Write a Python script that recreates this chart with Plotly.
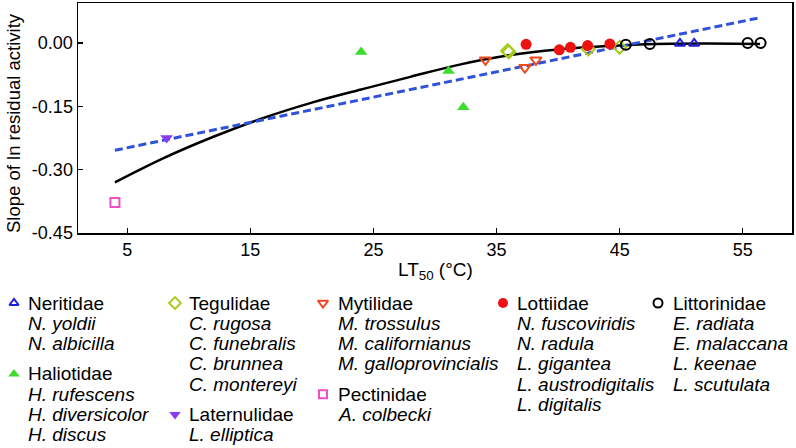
import plotly.graph_objects as go

# ---------------- data ----------------
neritidae_x = [49.9, 51.05]
neritidae_y = [-0.001, -0.001]
haliotidae_x = [24.0, 31.1, 32.3]
haliotidae_y = [-0.021, -0.066, -0.152]
tegulidae_x = [35.9, 36.0, 42.45, 45.0]
tegulidae_y = [-0.018, -0.021, -0.014, -0.010]
laternulidae_x = [8.2]
laternulidae_y = [-0.225]
mytilidae_x = [34.1, 37.3, 38.2]
mytilidae_y = [-0.040, -0.058, -0.040]
pectinidae_x = [4.0]
pectinidae_y = [-0.378]
lottiidae_x = [37.4, 40.1, 41.0, 42.4, 44.2]
lottiidae_y = [-0.003, -0.016, -0.010, -0.006, -0.002]
littorinidae_x = [45.5, 47.45, 55.4, 56.45]
littorinidae_y = [-0.004, -0.002, 0.0, 0.0]

# fitted curves
curve_x = [4, 8, 12, 16, 20, 24, 28, 32, 36, 40, 44, 48, 52, 56.4]
curve_y = [-0.330, -0.272, -0.222, -0.178, -0.141, -0.110, -0.080,
           -0.051, -0.029, -0.015, -0.007, -0.002, -0.001, -0.002]
linear_x = [4.0, 56.2]
linear_y = [-0.254, 0.059]

x_ticks = [5, 15, 25, 35, 45, 55]
y_ticks = [0.00, -0.15, -0.30, -0.45]
y_tick_text = ["0.00", "-0.15", "-0.30", "-0.45"]

# legend content: columns of (family, species)
legend_cols = [
    [("Neritidae", ["N. yoldii", "N. albicilla"]),
     ("Haliotidae", ["H. rufescens", "H. diversicolor", "H. discus"])],
    [("Tegulidae", ["C. rugosa", "C. funebralis", "C. brunnea", "C. montereyi"]),
     ("Laternulidae", ["L. elliptica"])],
    [("Mytilidae", ["M. trossulus", "M. californianus", "M. galloprovincialis"]),
     ("Pectinidae", ["A. colbecki"])],
    [("Lottiidae", ["N. fuscoviridis", "N. radula", "L. gigantea",
                    "L. austrodigitalis", "L. digitalis"])],
    [("Littorinidae", ["E. radiata", "E. malaccana", "L. keenae", "L. scutulata"])],
]

# ---------------- styles ----------------
style = {
    "Neritidae": dict(symbol="triangle-up-open", color="#1f1fd6", size=9),
    "Haliotidae": dict(symbol="triangle-up", color="#3ddc2f", size=11),
    "Tegulidae": dict(symbol="diamond-open", color="#a6cc1c", size=10),
    "Laternulidae": dict(symbol="triangle-down", color="#8a3cf0", size=11),
    "Mytilidae": dict(symbol="triangle-down-open", color="#ec4a1c", size=10),
    "Pectinidae": dict(symbol="square-open", color="#ec4fc8", size=9),
    "Lottiidae": dict(symbol="circle", color="#ee1111", size=11),
    "Littorinidae": dict(symbol="circle-open", color="#000000", size=10),
}
series = {
    "Tegulidae": (tegulidae_x, tegulidae_y),
    "Haliotidae": (haliotidae_x, haliotidae_y),
    "Laternulidae": (laternulidae_x, laternulidae_y),
    "Mytilidae": (mytilidae_x, mytilidae_y),
    "Pectinidae": (pectinidae_x, pectinidae_y),
    "Neritidae": (neritidae_x, neritidae_y),
    "Lottiidae": (lottiidae_x, lottiidae_y),
    "Littorinidae": (littorinidae_x, littorinidae_y),
}

W, H = 796, 448
L, R, T, B = 78, 792, 3, 233
FONT = "Liberation Sans, Arial, Helvetica, sans-serif"
LEG_SIZE = 19

fig = go.Figure()

fig.add_trace(go.Scatter(x=curve_x, y=curve_y, mode="lines",
                         line=dict(color="black", width=2.5, shape="spline"),
                         showlegend=False, hoverinfo="skip"))
fig.add_trace(go.Scatter(x=linear_x, y=linear_y, mode="lines",
                         line=dict(color="#2f52d8", width=3, dash="8px,4px"),
                         showlegend=False, hoverinfo="skip"))


def mk(fam):
    s = style[fam]
    open_ = s["symbol"].endswith("open")
    return dict(symbol=s["symbol"], color=s["color"], size=s["size"],
                line=dict(color=s["color"], width=2 if open_ else 0))


for fam, (xs, ys) in series.items():
    fig.add_trace(go.Scatter(x=xs, y=ys, mode="markers", marker=mk(fam),
                             name=fam, showlegend=False))

# ---------------- legend drawn in pixel space ----------------
col_marker_x = [14, 175, 323, 503, 658]
col_text_x = [26, 187, 336, 515, 671]
row0 = 303
step = 20.3
gap = 10

ann = []
leg_x, leg_y, leg_fams = [], [], []
for ci, col in enumerate(legend_cols):
    y = row0
    for gi, (fam, species) in enumerate(col):
        leg_fams.append(fam)
        leg_x.append(col_marker_x[ci])
        leg_y.append(y)
        ann.append(dict(x=col_text_x[ci], y=y, text=fam, xref="x2", yref="y2",
                        xanchor="left", yanchor="middle", showarrow=False,
                        font=dict(size=LEG_SIZE, color="black", family=FONT)))
        for sp in species:
            y += step
            ann.append(dict(x=col_text_x[ci], y=y, text="<i>%s</i>" % sp,
                            xref="x2", yref="y2", xanchor="left", yanchor="middle",
                            showarrow=False,
                            font=dict(size=LEG_SIZE, color="black", family=FONT)))
        y += step + gap

for fam, lx, ly in zip(leg_fams, leg_x, leg_y):
    m = mk(fam)
    m["size"] = m["size"] - 1
    fig.add_trace(go.Scatter(x=[lx], y=[ly], mode="markers", marker=m,
                             xaxis="x2", yaxis="y2", showlegend=False,
                             hoverinfo="skip"))

# axis titles
ann.append(dict(x=(L + R) / 2, y=271, xref="x2", yref="y2",
                text="LT<sub>50</sub> (°C)", showarrow=False,
                xanchor="center", yanchor="middle",
                font=dict(size=LEG_SIZE, color="black", family=FONT)))
ann.append(dict(x=13, y=(T + B) / 2 + 5, xref="x2", yref="y2",
                text="Slope of ln residual activity", showarrow=False,
                textangle=-90, xanchor="center", yanchor="middle",
                font=dict(size=18.5, color="black", family=FONT)))

fig.update_layout(
    width=W, height=H,
    margin=dict(l=0, r=0, t=0, b=0, pad=0, autoexpand=False),
    paper_bgcolor="white",
    plot_bgcolor="rgba(0,0,0,0)",
    font=dict(family=FONT, size=18, color="black"),
    showlegend=False,
    annotations=ann,
    xaxis=dict(domain=[L / W, R / W], range=[1, 59], tickvals=x_ticks,
               ticks="inside", ticklen=5, tickwidth=1.2, tickcolor="black",
               showline=True, linecolor="black", linewidth=1.5, mirror=True,
               showgrid=False, zeroline=False, anchor="y", automargin=False,
               tickfont=dict(size=18, family=FONT, color="black")),
    yaxis=dict(domain=[(H - B) / H, (H - T) / H], range=[-0.45, 0.095],
               tickvals=y_ticks, ticktext=y_tick_text,
               ticks="inside", ticklen=5, tickwidth=1.2, tickcolor="black",
               showline=True, linecolor="black", linewidth=1.5, mirror=True,
               showgrid=False, zeroline=False, anchor="x", automargin=False,
               tickfont=dict(size=18, family=FONT, color="black")),
    xaxis2=dict(domain=[0, 1], range=[0, W], visible=False, anchor="y2",
                fixedrange=True, automargin=False),
    yaxis2=dict(domain=[0, 1], range=[H, 0], visible=False, anchor="x2",
                fixedrange=True, automargin=False),
)

fig.write_html("out.html",
               config={"displayModeBar": False, "staticPlot": True},
               post_script="document.body.style.margin='0';"
                           "document.body.style.overflow='hidden';")
